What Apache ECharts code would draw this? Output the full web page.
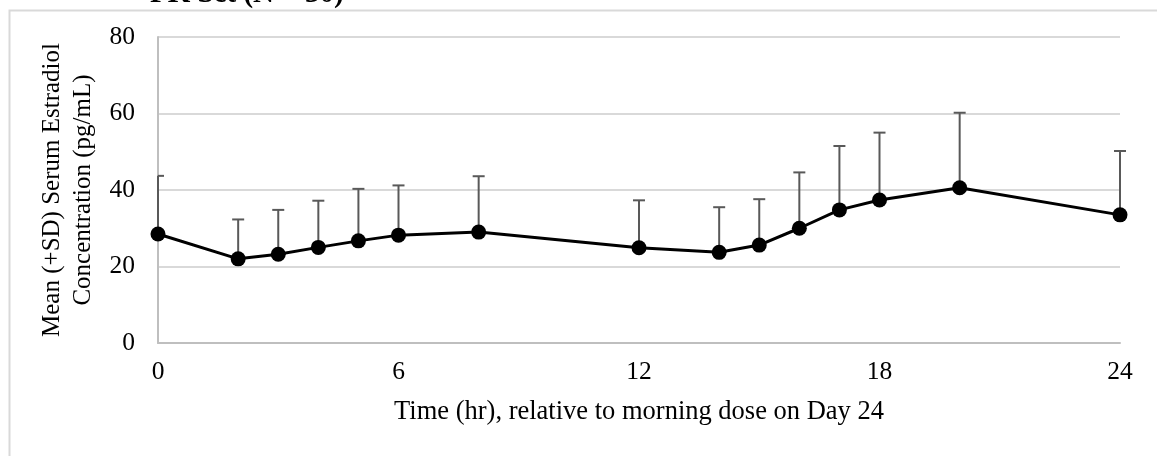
<!DOCTYPE html>
<html>
<head>
<meta charset="utf-8">
<script src="https://cdn.jsdelivr.net/npm/echarts@6/dist/echarts.min.js"></script>
<style>
html,body{margin:0;padding:0;background:#fff;}
#chart{width:1157px;height:456px;}
</style>
</head>
<body>
<div id="chart"></div>
<script>
const times = [0, 2, 3, 4, 5, 6, 8, 12, 14, 15, 16, 17, 18, 20, 24];
const meanConc = [28.5, 22.0, 23.2, 25.0, 26.7, 28.2, 29.0, 24.9, 23.7, 25.6, 30.0, 34.8, 37.4, 40.6, 33.5];
const sdConc = [15.2, 10.3, 11.6, 12.2, 13.6, 13.0, 14.6, 12.4, 11.8, 12.0, 14.6, 16.7, 17.6, 19.6, 16.7];
const xTicks = [0, 6, 12, 18, 24];
const yTicks = [0, 20, 40, 60, 80];

const font = '"Liberation Serif", "Times New Roman", serif';
const lineData = times.map((t, i) => [t, meanConc[i]]);
const errData = times.map((t, i) => [t, meanConc[i], meanConc[i] + sdConc[i]]);

const chart = echarts.init(document.getElementById('chart'), null, {renderer: 'canvas'});
chart.setOption({
  animation: false,
  backgroundColor: '#ffffff',
  textStyle: {fontFamily: font},
  graphic: [
    {type: 'rect', left: 7, top: 8, shape: {width: 1300, height: 600},
     style: {fill: 'none', stroke: '#d9d9d9', lineWidth: 2}, z: -10, silent: true},
    {type: 'text', x: 150, y: -20,
     style: {text: 'PK Set (N = 30)', font: 'bold 29px ' + font, fill: '#000'}}
  ],
  grid: {left: 158, right: 37, top: 37, bottom: 113, containLabel: false},
  xAxis: {
    type: 'value', min: xTicks[0], max: xTicks[xTicks.length - 1], interval: 6,
    name: 'Time (hr), relative to morning dose on Day 24',
    nameLocation: 'middle', nameGap: 56,
    nameTextStyle: {fontFamily: font, fontSize: 26.5, color: '#000'},
    axisLine: {show: true, lineStyle: {color: '#bfbfbf', width: 2}},
    axisTick: {show: false},
    splitLine: {show: false},
    axisLabel: {fontFamily: font, fontSize: 25.5, color: '#000', margin: 16,
      formatter: v => xTicks.includes(v) ? String(v) : ''}
  },
  yAxis: {
    type: 'value', min: yTicks[0], max: yTicks[yTicks.length - 1], interval: 20,
    name: 'Mean (+SD) Serum Estradiol\nConcentration (pg/mL)',
    nameLocation: 'middle', nameGap: 50, nameRotate: 90,
    nameTextStyle: {fontFamily: font, fontSize: 25, color: '#000', lineHeight: 31, align: 'center'},
    axisLine: {show: true, lineStyle: {color: '#bfbfbf', width: 2}},
    axisTick: {show: false},
    splitLine: {show: true, lineStyle: {color: '#d9d9d9', width: 2}},
    axisLabel: {fontFamily: font, fontSize: 25.5, color: '#000', margin: 23,
      formatter: v => yTicks.includes(v) ? String(v) : ''}
  },
  series: [
    {
      type: 'custom',
      clip: false,
      z: 1,
      data: errData,
      renderItem: function (params, api) {
        const x = api.value(0);
        const p0 = api.coord([x, api.value(1)]);
        const p1 = api.coord([x, api.value(2)]);
        const leftEdge = api.coord([xTicks[0], 0])[0];
        const hw = 6;
        const style = {stroke: '#595959', lineWidth: 2};
        return {
          type: 'group',
          children: [
            {type: 'line', shape: {x1: p0[0], y1: p0[1], x2: p1[0], y2: p1[1]}, style: style},
            {type: 'line', shape: {x1: Math.max(leftEdge, p1[0] - hw), y1: p1[1], x2: p1[0] + hw, y2: p1[1]}, style: style}
          ]
        };
      }
    },
    {
      type: 'line',
      z: 3,
      data: lineData,
      clip: false,
      symbol: 'circle',
      symbolSize: 15,
      lineStyle: {color: '#000', width: 3},
      itemStyle: {color: '#000'}
    }
  ]
});
</script>
</body>
</html>
